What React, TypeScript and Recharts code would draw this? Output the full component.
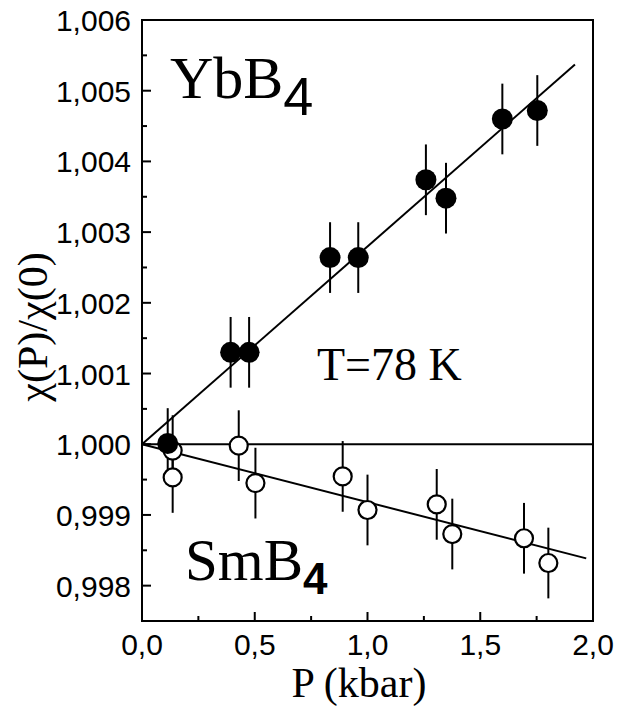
import React from "react";
import {
  ComposedChart,
  ErrorBar,
  ReferenceArea,
  ReferenceLine,
  Scatter,
  XAxis,
  YAxis,
} from "recharts";

// YbB4, filled symbols
const ybPressure = [0.114, 0.393, 0.475, 0.834, 0.959, 1.259, 1.348, 1.598, 1.753];
const ybChi = [1.00001, 1.0013, 1.0013, 1.00264, 1.00264, 1.00374, 1.00348, 1.0046, 1.00472];
const ybError = [0.0005, 0.0005, 0.0005, 0.0005, 0.0005, 0.0005, 0.0005, 0.0005, 0.0005];

// SmB4, open symbols
const smPressure = [0.136, 0.136, 0.429, 0.503, 0.89, 1.0, 1.307, 1.376, 1.694, 1.802];
const smChi = [0.99991, 0.99953, 0.99998, 0.99945, 0.999545, 0.99907, 0.99915, 0.99873, 0.99867, 0.99832];
const smError = [0.0005, 0.0005, 0.0005, 0.0005, 0.0005, 0.0005, 0.0005, 0.0005, 0.0005, 0.0005];

// linear fits through (0, 1)
const ybFitEnd = { p: 1.92, v: 1.00537 };
const smFitEnd = { p: 1.97, v: 0.998386 };

const xTicks = [0, 0.25, 0.5, 0.75, 1, 1.25, 1.5, 1.75, 2];
const yTicks = [
  0.998, 0.9985, 0.999, 0.9995, 1.0, 1.0005, 1.001, 1.0015, 1.002, 1.0025, 1.003, 1.0035, 1.004,
  1.0045, 1.005, 1.0055, 1.006,
];

const xDomain: [number, number] = [0, 2];
const yDomain: [number, number] = [0.9975, 1.006];

const ybData = ybPressure.map((p, i) => ({ p, v: ybChi[i], err: ybError[i] }));
const smData = smPressure.map((p, i) => ({ p, v: smChi[i], err: smError[i] }));

const TICK_MARGIN = 12;
const SANS = "Liberation Sans";
const SERIF = "Liberation Serif";

const isMajorX = (v: number) => Math.abs(v * 2 - Math.round(v * 2)) < 1e-6;
const isMajorY = (v: number) => Math.abs(v * 1000 - Math.round(v * 1000)) < 1e-6;

// ticks point inward: long on labelled values, short in between
const XTick = (props: any) => {
  const x = Number(props.x);
  const y = Number(props.y);
  const value = props.payload.value as number;
  const major = isMajorX(value);
  const axisY = y - TICK_MARGIN;
  return (
    <g>
      <path d={`M${x},${axisY}V${axisY - (major ? 9 : 5)}`} stroke="#000" strokeWidth={2} fill="none" />
      {major && (
        <text x={x} y={axisY + 34} textAnchor="middle" style={{ fontFamily: SANS, fontSize: 30 }} fill="#000">
          {value.toFixed(1).replace(".", ",")}
        </text>
      )}
    </g>
  );
};

const YTick = (props: any) => {
  const x = Number(props.x);
  const y = Number(props.y);
  const value = props.payload.value as number;
  const major = isMajorY(value);
  const axisX = x + TICK_MARGIN;
  return (
    <g>
      <path d={`M${axisX},${y}H${axisX + (major ? 9 : 5)}`} stroke="#000" strokeWidth={2} fill="none" />
      {major && (
        <text x={axisX - 11} y={y + 11} textAnchor="end" style={{ fontFamily: SANS, fontSize: 30 }} fill="#000">
          {value.toFixed(3).replace(".", ",")}
        </text>
      )}
    </g>
  );
};

const FilledDot = (props: any) => <circle cx={props.cx} cy={props.cy} r={10.5} fill="#000" />;
const OpenDot = (props: any) => (
  <circle cx={props.cx} cy={props.cy} r={9} fill="#fff" stroke="#000" strokeWidth={2.2} />
);

export default function App() {
  return (
    <div style={{ position: "absolute", left: 0, top: 0, width: 617, height: 707, background: "#fff" }}>
      <ComposedChart width={617} height={707} margin={{ top: 20, right: 24, bottom: 0, left: 0 }}>
        <XAxis
          dataKey="p"
          type="number"
          domain={xDomain}
          ticks={xTicks}
          interval={0}
          allowDataOverflow
          height={86}
          tickSize={0}
          tickMargin={TICK_MARGIN}
          tickLine={false}
          axisLine={{ stroke: "#000", strokeWidth: 2 }}
          tick={(p: any) => <XTick {...p} />}
        />
        <YAxis
          dataKey="v"
          type="number"
          domain={yDomain}
          ticks={yTicks}
          interval={0}
          allowDataOverflow
          width={142}
          tickSize={0}
          tickMargin={TICK_MARGIN}
          tickLine={false}
          axisLine={{ stroke: "#000", strokeWidth: 2 }}
          tick={(p: any) => <YTick {...p} />}
        />
        <ReferenceArea
          x1={xDomain[0]}
          x2={xDomain[1]}
          y1={yDomain[0]}
          y2={yDomain[1]}
          fill="none"
          fillOpacity={0}
          stroke="#000"
          strokeWidth={2}
        />
        <ReferenceLine y={1} stroke="#000" strokeWidth={2} />
        <ReferenceLine
          segment={[
            { x: 0, y: 1 },
            { x: ybFitEnd.p, y: ybFitEnd.v },
          ]}
          stroke="#000"
          strokeWidth={2}
        />
        <ReferenceLine
          segment={[
            { x: 0, y: 1 },
            { x: smFitEnd.p, y: smFitEnd.v },
          ]}
          stroke="#000"
          strokeWidth={2}
        />
        <Scatter data={smData} dataKey="v" shape={<OpenDot />} isAnimationActive={false}>
          <ErrorBar dataKey="err" direction="y" width={0} stroke="#000" strokeWidth={2} />
        </Scatter>
        <Scatter data={ybData} dataKey="v" shape={<FilledDot />} isAnimationActive={false}>
          <ErrorBar dataKey="err" direction="y" width={0} stroke="#000" strokeWidth={2} />
        </Scatter>
      </ComposedChart>

      <svg
        width={617}
        height={707}
        style={{ position: "absolute", left: 0, top: 0, pointerEvents: "none" }}
      >
        <text x={170} y={98} fontFamily={SERIF} fontSize={60} fill="#000">
          YbB
          <tspan dy={17} fontFamily={SANS} fontSize={54}>
            4
          </tspan>
        </text>
        <text x={185} y={580} fontFamily={SERIF} fontSize={59} fill="#000">
          SmB
          <tspan dy={14} fontFamily={SANS} fontSize={44} fontWeight="bold">
            4
          </tspan>
        </text>
        <text x={317} y={380} fontFamily={SERIF} fontSize={46} fill="#000">
          T=78 K
        </text>
        <text x={359} y={697} textAnchor="middle" fontFamily={SERIF} fontSize={42} fill="#000">
          P (kbar)
        </text>
        <text
          x={0}
          y={0}
          transform="translate(47 327) rotate(-90)"
          textAnchor="middle"
          fontFamily={SERIF}
          fontSize={42}
          fill="#000"
        >
          χ(P)/χ(0)
        </text>
      </svg>
    </div>
  );
}
